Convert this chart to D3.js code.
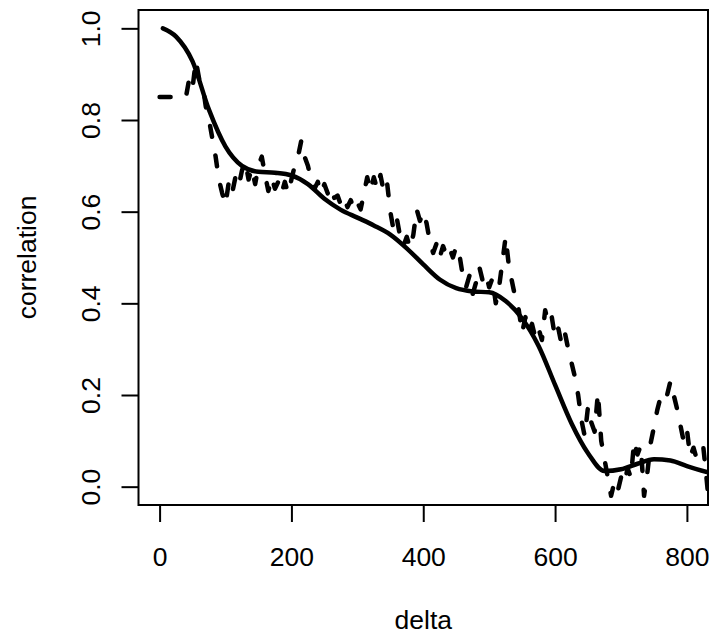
<!DOCTYPE html>
<html>
<head>
<meta charset="utf-8">
<script src="https://cdn.jsdelivr.net/npm/d3@7"></script>
<style>
  body { margin: 0; background: #fff; }
  svg text { font-family: 'Liberation Sans', Arial, Helvetica, sans-serif; fill: #000; }
</style>
</head>
<body>
<div class="chart"></div>
<script>
const width = 714
const height = 639

// smooth fitted correlation curve
const fitDelta = [5, 25, 50, 75, 100, 125, 150, 175, 200, 225, 250, 275, 300, 325, 350, 375, 400, 425, 450, 475, 500, 525, 550, 575, 600, 625, 650, 675, 700, 725, 750, 775, 800, 832]
const fitCorr = [1.0, 0.982, 0.928, 0.822, 0.742, 0.70, 0.687, 0.685, 0.679, 0.66, 0.628, 0.604, 0.587, 0.57, 0.55, 0.52, 0.485, 0.452, 0.433, 0.426, 0.424, 0.405, 0.367, 0.307, 0.222, 0.138, 0.073, 0.034, 0.038, 0.05, 0.06, 0.057, 0.045, 0.031]

// empirical correlation (dashed)
const empDelta = [0, 5, 10, 15, 20, 25, 30, 35, 40, 45, 50, 55, 60, 65, 70, 75, 80, 85, 90, 95,
  100, 105, 110, 115, 120, 125, 130, 135, 140, 145, 150, 155, 160, 165, 170, 175, 180, 185, 190, 195,
  200, 205, 210, 215, 220, 225, 230, 235, 240, 245, 250, 255, 260, 265, 270, 275, 280, 285, 290, 295,
  300, 305, 310, 315, 320, 325, 330, 335, 340, 345, 350, 355, 360, 365, 370, 375, 380, 385, 390, 395,
  400, 405, 410, 415, 420, 425, 430, 435, 440, 445, 450, 455, 460, 465, 470, 475, 480, 485, 490, 495,
  500, 505, 510, 515, 520, 525, 530, 535, 540, 545, 550, 555, 560, 565, 570, 575, 580, 585, 590, 595,
  600, 605, 610, 615, 620, 625, 630, 635, 640, 645, 650, 655, 660, 665, 670, 675, 680, 685, 690, 695,
  700, 705, 710, 715, 720, 725, 730, 735, 740, 745, 750, 755, 760, 765, 770, 775, 780, 785, 790, 795,
  800, 805, 810, 815, 820, 825, 830, 835]
const empCorr = [0.85, 0.85, 0.85, 0.85, 0.85, 0.85, 0.85, 0.85, 0.85, 0.89, 0.87, 0.93, 0.89, 0.88, 0.83, 0.80, 0.76, 0.72, 0.67, 0.64,
  0.615, 0.665, 0.64, 0.675, 0.655, 0.69, 0.71, 0.67, 0.695, 0.66, 0.70, 0.72, 0.68, 0.645, 0.675, 0.65, 0.665, 0.64, 0.665, 0.64,
  0.67, 0.70, 0.72, 0.755, 0.72, 0.70, 0.67, 0.65, 0.665, 0.64, 0.66, 0.64, 0.655, 0.63, 0.635, 0.615, 0.63, 0.61, 0.625, 0.605,
  0.62, 0.605, 0.64, 0.675, 0.645, 0.675, 0.65, 0.68, 0.645, 0.665, 0.60, 0.56, 0.585, 0.545, 0.525, 0.545, 0.52, 0.55, 0.605, 0.58,
  0.60, 0.575, 0.535, 0.51, 0.53, 0.50, 0.525, 0.505, 0.52, 0.50, 0.525, 0.505, 0.46, 0.435, 0.46, 0.42, 0.445, 0.48, 0.45, 0.465,
  0.435, 0.455, 0.40, 0.435, 0.49, 0.545, 0.48, 0.445, 0.41, 0.385, 0.335, 0.37, 0.34, 0.355, 0.325, 0.345, 0.32, 0.385, 0.355, 0.37,
  0.325, 0.345, 0.31, 0.335, 0.30, 0.27, 0.24, 0.20, 0.145, 0.11, 0.175, 0.14, 0.12, 0.205, 0.10, 0.06, 0.02, -0.02, 0.01, -0.01,
  0.02, 0.005, 0.04, 0.02, 0.10, 0.07, 0.09, -0.02, 0.03, 0.095, 0.13, 0.167, 0.195, 0.185, 0.20, 0.23, 0.20, 0.17, 0.135, 0.10,
  0.125, 0.065, 0.085, 0.06, 0.08, 0.085, 0.015, -0.06]

const xTicks = [0, 200, 400, 600, 800]
const yTicks = [0.0, 0.2, 0.4, 0.6, 0.8, 1.0]

const fontSize = 26.5
const lineW = 4.5

const svg = d3.select('.chart')
  .append('svg')
  .attr('width', width)
  .attr('height', height)

svg.append('rect').attr('width', width).attr('height', height).attr('fill', '#fff')

const x = d3.scaleLinear().domain([-32, 832]).range([138.5, 708])
const y = d3.scaleLinear().domain([-0.04, 1.04]).range([505, 10])

svg.append('clipPath')
  .attr('id', 'plot-clip')
  .append('rect')
  .attr('x', x.range()[0])
  .attr('y', y.range()[1])
  .attr('width', x.range()[1] - x.range()[0])
  .attr('height', y.range()[0] - y.range()[1])

const plot = svg.append('g').attr('clip-path', 'url(#plot-clip)')

const fitPts = fitDelta.map((d, i) => [d, fitCorr[i]])
const empPts = empDelta.map((d, i) => [d, empCorr[i]])

plot.append('path')
  .datum(empPts)
  .attr('fill', 'none')
  .attr('stroke', '#000')
  .attr('stroke-width', lineW)
  .attr('stroke-linecap', 'round')
  .attr('stroke-linejoin', 'round')
  .attr('stroke-dasharray', '11,19')
  .attr('d', d3.line().x(d => x(d[0])).y(d => y(d[1])))

plot.append('path')
  .datum(fitPts)
  .attr('fill', 'none')
  .attr('stroke', '#000')
  .attr('stroke-width', lineW)
  .attr('stroke-linecap', 'round')
  .attr('d', d3.line().curve(d3.curveMonotoneX).x(d => x(d[0])).y(d => y(d[1])))

// axes
const xAxis = svg.append('g')
  .attr('transform', `translate(0,${y.range()[0]})`)
  .call(d3.axisBottom(x).tickValues(xTicks).tickSize(17).tickPadding(25).tickFormat(d3.format('d')))
xAxis.select('.domain').remove()
xAxis.selectAll('line').attr('stroke', '#000').attr('stroke-width', 2)
xAxis.selectAll('text').attr('font-size', fontSize).attr('fill', '#000')

const yAxis = svg.append('g')
  .attr('transform', `translate(${x.range()[0]},0)`)
  .call(d3.axisLeft(y).tickValues(yTicks).tickSize(17).tickFormat(d3.format('.1f')))
yAxis.select('.domain').remove()
yAxis.selectAll('line').attr('stroke', '#000').attr('stroke-width', 2)
yAxis.selectAll('text')
  .attr('font-size', fontSize)
  .attr('fill', '#000')
  .attr('x', 0)
  .attr('dy', 0)
  .attr('text-anchor', 'middle')
  .attr('transform', 'translate(-39,0) rotate(-90)')

// box
svg.append('rect')
  .attr('x', x.range()[0])
  .attr('y', y.range()[1])
  .attr('width', x.range()[1] - x.range()[0])
  .attr('height', y.range()[0] - y.range()[1])
  .attr('fill', 'none')
  .attr('stroke', '#000')
  .attr('stroke-width', 2)

// axis titles
svg.append('text')
  .attr('x', (x.range()[0] + x.range()[1]) / 2)
  .attr('y', 629)
  .attr('text-anchor', 'middle')
  .attr('font-size', fontSize)
  .text('delta')

svg.append('text')
  .attr('transform', `translate(36,${(y.range()[0] + y.range()[1]) / 2}) rotate(-90)`)
  .attr('text-anchor', 'middle')
  .attr('font-size', fontSize)
  .text('correlation')
</script>
</body>
</html>
